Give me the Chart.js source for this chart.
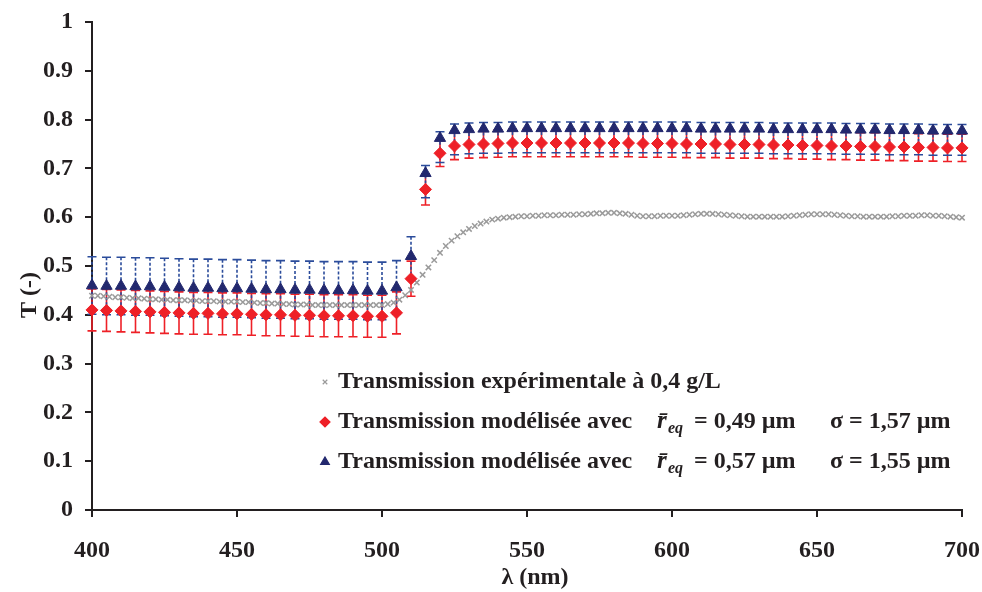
<!DOCTYPE html>
<html>
<head>
<meta charset="utf-8">
<script src="https://cdn.jsdelivr.net/npm/chart.js@4"></script>
<style>
  html, body { margin: 0; padding: 0; background: #fff; }
  #wrap { width: 982px; height: 592px; position: relative; }
</style>
</head>
<body>
<div id="wrap"><canvas id="chart"></canvas></div>
<script>
/* ── Data ───────────────────────────────────────────── */
// experimental transmission, 400 → 700 nm every 2 nm
const expStart = 400, expStep = 2;
const expValues = [
  .439,.439,.438,.437,.436,.436,.435,.434,.434,.433,
  .432,.432,.431,.431,.430,.430,.430,.429,.429,.428,
  .428,.428,.427,.427,.427,.427,.426,.426,.425,.424,
  .424,.423,.423,.422,.422,.421,.421,.421,.420,.420,
  .420,.420,.420,.420,.420,.420,.420,.420,.420,.420,
  .420,.422,.425,.431,.440,.451,.466,.482,.497,.512,
  .527,.541,.552,.561,.569,.576,.582,.587,.591,.595,
  .597,.599,.600,.601,.602,.602,.603,.603,.604,.604,
  .604,.605,.605,.605,.606,.606,.607,.608,.608,.609,
  .609,.608,.607,.605,.603,.602,.602,.602,.603,.603,
  .603,.603,.604,.605,.606,.607,.607,.607,.606,.605,
  .604,.603,.602,.601,.601,.601,.601,.601,.601,.601,
  .602,.603,.604,.605,.606,.606,.606,.606,.605,.604,
  .603,.602,.602,.601,.601,.601,.601,.601,.602,.602,
  .603,.603,.603,.604,.604,.603,.603,.602,.601,.600,
  .599
];

// modelled transmissions, 400 → 700 nm every 5 nm
const modStart = 400, modStep = 5;
const redValues = [
  .410,.409,.408,.407,.406,.405,.404,.403,.403,.402,
  .402,.401,.400,.400,.399,.399,.398,.398,.398,.397,
  .397,.404,.474,.657,.731,.746,.749,.750,.751,.752,
  .752,.752,.752,.752,.752,.752,.752,.752,.751,.751,
  .751,.750,.750,.750,.749,.749,.749,.748,.748,.747,
  .747,.746,.746,.745,.745,.744,.744,.743,.743,.742,
  .742
];
const redErrPlus = [
  .043,.043,.043,.043,.043,.043,.043,.043,.043,.043,
  .043,.043,.043,.043,.043,.043,.043,.043,.043,.043,
  .043,.043,.036,.032,.027,.028,.028,.028,.028,.028,
  .028,.028,.028,.028,.028,.028,.028,.028,.028,.028,
  .028,.028,.028,.028,.028,.028,.028,.028,.028,.028,
  .028,.028,.028,.028,.028,.028,.028,.028,.028,.028,
  .028
];
const redErrMinus = redErrPlus;

const blueValues = [
  .460,.459,.459,.458,.458,.457,.456,.455,.455,.454,
  .454,.453,.452,.452,.451,.451,.450,.450,.450,.449,
  .449,.456,.520,.690,.762,.778,.780,.781,.781,.782,
  .782,.782,.782,.782,.782,.782,.782,.782,.782,.782,
  .782,.782,.781,.781,.781,.781,.781,.780,.780,.780,
  .780,.780,.779,.779,.779,.778,.778,.778,.777,.777,
  .777
];
const blueErrPlus = [
  .059,.059,.059,.059,.059,.059,.059,.059,.059,.059,
  .059,.059,.059,.059,.059,.059,.059,.059,.059,.059,
  .059,.055,.040,.016,.013,.013,.013,.013,.013,.013,
  .013,.013,.013,.013,.013,.013,.013,.013,.013,.013,
  .013,.013,.013,.013,.013,.013,.013,.013,.013,.013,
  .013,.013,.013,.013,.013,.013,.013,.013,.013,.013,
  .013
];
const blueErrMinus = [
  .059,.059,.059,.059,.059,.059,.059,.059,.059,.059,
  .059,.059,.059,.059,.059,.059,.059,.059,.059,.059,
  .059,.055,.045,.050,.050,.050,.050,.050,.050,.050,
  .050,.050,.050,.050,.050,.050,.050,.050,.050,.050,
  .050,.050,.050,.050,.050,.050,.050,.050,.050,.050,
  .050,.050,.050,.050,.050,.050,.050,.050,.050,.050,
  .050
];

const xTicks = [400, 450, 500, 550, 600, 650, 700];
const yTicks = [0, .1, .2, .3, .4, .5, .6, .7, .8, .9, 1];

const legendLabels = [
  'Transmission expérimentale à 0,4 g/L',
  'Transmission modélisée avec',
  'Transmission modélisée avec'
];
const legendReq   = ['', '= 0,49 µm', '= 0,57 µm'];
const legendSigma = ['', 'σ = 1,57 µm', 'σ = 1,55 µm'];

/* ── Helpers ────────────────────────────────────────── */
const toPoints = (vals, start, step) => vals.map((v, i) => ({ x: start + i * step, y: v }));

const SERIF = '"Liberation Serif", "Times New Roman", serif';
const INK   = '#231F20';
const RED   = '#EE2027';
const BLUE  = '#22286E';
const GREY  = '#9A9A9A';

// Draw custom (asymmetric) error bars under the markers
const errorBars = {
  id: 'errorBars',
  beforeDatasetsDraw(chart) {
    const { ctx, scales: { y } } = chart;
    chart.data.datasets.forEach((ds, di) => {
      if (!ds.errPlus) return;
      const meta = chart.getDatasetMeta(di);
      ctx.save();
      ctx.strokeStyle = ds.errColor;
      ctx.lineWidth = 1.6;
      meta.data.forEach((pt, i) => {
        const v = ds.data[i].y;
        const top = y.getPixelForValue(v + ds.errPlus[i]);
        const bot = y.getPixelForValue(v - ds.errMinus[i]);
        ctx.setLineDash(ds.errDash || []);
        ctx.beginPath();
        ctx.moveTo(pt.x, top); ctx.lineTo(pt.x, bot);
        ctx.stroke();
        ctx.setLineDash([]);
        ctx.beginPath();
        ctx.moveTo(pt.x - 4.5, top); ctx.lineTo(pt.x + 4.5, top);
        ctx.moveTo(pt.x - 4.5, bot); ctx.lineTo(pt.x + 4.5, bot);
        ctx.stroke();
      });
      ctx.restore();
    });
  }
};

// Axis titles + in-plot legend with subscripted r̄eq
const annotations = {
  id: 'annotations',
  afterDraw(chart) {
    const { ctx, chartArea: a } = chart;
    ctx.save();
    ctx.fillStyle = INK;
    ctx.font = 'bold 24px ' + SERIF;
    ctx.textAlign = 'center';
    ctx.textBaseline = 'middle';
    ctx.fillText('λ (nm)', a.left + 443, a.bottom + 68);
    ctx.save();
    ctx.translate(30, a.top + 273);
    ctx.rotate(-Math.PI / 2);
    ctx.fillText('T (-)', 0, 0);
    ctx.restore();

    // legend
    const lx = a.left + 233, ly = a.top + 360, gap = 40;
    chart.data.datasets.forEach((ds, row) => {
      const yy = ly + row * gap;
      ctx.save();
      ctx.fillStyle = ds.pointBackgroundColor;
      ctx.strokeStyle = ds.pointBorderColor;
      ctx.lineWidth = 1.2;
      Chart.helpers.drawPoint(ctx, {
        pointStyle: ds.pointStyle, radius: ds.legendRadius, borderWidth: 1.2, rotation: 0
      }, lx, yy);
      ctx.restore();

      ctx.textAlign = 'left';
      ctx.textBaseline = 'middle';
      ctx.font = 'bold 24px ' + SERIF;
      ctx.fillText(legendLabels[row], lx + 13, yy);
      if (legendReq[row]) {
        ctx.font = 'italic bold 25px ' + SERIF;
        ctx.fillText('r\u0304', lx + 332, yy);
        ctx.font = 'italic bold 16px ' + SERIF;
        ctx.fillText('eq', lx + 343, yy + 7);
        ctx.font = 'bold 24px ' + SERIF;
        ctx.fillText(legendReq[row], lx + 369, yy);
        ctx.fillText(legendSigma[row], lx + 505, yy);
      }
    });
    ctx.restore();
  }
};

/* ── Chart ──────────────────────────────────────────── */
const tickFont = { family: SERIF, size: 24, weight: 'bold' };

new Chart(document.getElementById('chart'), {
  type: 'scatter',
  data: {
    datasets: [
      {
        label: legendLabels[0],
        data: toPoints(expValues, expStart, expStep),
        pointStyle: 'crossRot', pointRadius: 3.8, legendRadius: 3.2,
        pointBorderColor: GREY, pointBackgroundColor: GREY, pointBorderWidth: 1.5,
        clip: false, order: 3
      },
      {
        label: legendLabels[1],
        data: toPoints(redValues, modStart, modStep),
        pointStyle: 'rectRot', pointRadius: 6, legendRadius: 5,
        pointBorderColor: RED, pointBackgroundColor: RED, pointBorderWidth: 1,
        errPlus: redErrPlus, errMinus: redErrMinus, errColor: RED,
        clip: false, order: 1
      },
      {
        label: legendLabels[2],
        data: toPoints(blueValues, modStart, modStep),
        pointStyle: 'triangle', pointRadius: 6.5, legendRadius: 5,
        pointBorderColor: BLUE, pointBackgroundColor: BLUE, pointBorderWidth: 1,
        errPlus: blueErrPlus, errMinus: blueErrMinus, errColor: '#2B4C9B', errDash: [3, 2],
        clip: false, order: 2
      }
    ]
  },
  options: {
    responsive: true,
    maintainAspectRatio: false,
    animation: false,
    layout: { padding: { left: 0, right: 20, top: 22, bottom: 0 } },
    plugins: { legend: { display: false }, tooltip: { enabled: false } },
    scales: {
      x: {
        type: 'linear', min: 400, max: 700,
        afterFit: s => { s.height = 82; s.paddingLeft = 0; s.paddingRight = 0; },
        afterBuildTicks: s => { s.ticks = xTicks.map(v => ({ value: v })); },
        ticks: { color: INK, font: tickFont, padding: 19, maxRotation: 0 },
        grid: { drawOnChartArea: false, color: INK, lineWidth: 2, tickLength: 7 },
        border: { color: INK, width: 2 }
      },
      y: {
        min: 0, max: 1,
        afterFit: s => { s.width = 92; s.paddingTop = 0; s.paddingBottom = 0; },
        afterBuildTicks: s => { s.ticks = yTicks.map(v => ({ value: v })); },
        ticks: {
          color: INK, font: tickFont, padding: 12,
          callback: v => String(+v.toFixed(1))
        },
        grid: { drawOnChartArea: false, color: INK, lineWidth: 2, tickLength: 7 },
        border: { color: INK, width: 2 }
      }
    }
  },
  plugins: [errorBars, annotations]
});
</script>
</body>
</html>
